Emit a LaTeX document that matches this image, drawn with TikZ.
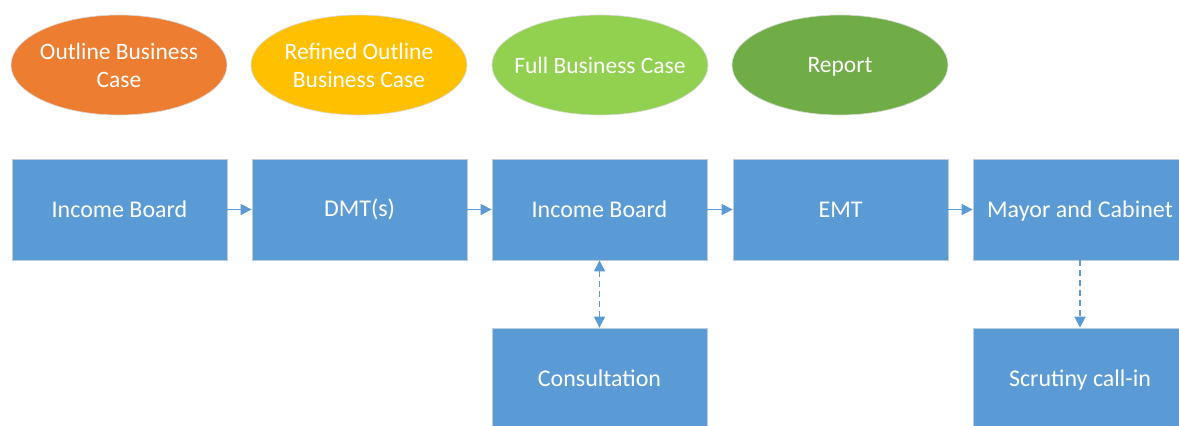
\documentclass[tikz,border=0pt]{standalone}
\usepackage{fontspec}
\setmainfont{Carlito}
\usetikzlibrary{arrows.meta,shapes.geometric}
\definecolor{cblue}{HTML}{5B9BD5}
\definecolor{corange}{HTML}{ED7D31}
\definecolor{cyellow}{HTML}{FFC000}
\definecolor{clgreen}{HTML}{92D050}
\definecolor{cgreen}{HTML}{70AD47}
\definecolor{cedge}{HTML}{BCCCDC}
\tikzset{
  boxfont/.style={text=white, font=\fontsize{24}{28}\selectfont},
  stepbox/.style={rectangle, fill=cblue, draw=cedge, line width=0.8pt, minimum width=215pt, minimum height=101pt, inner sep=0pt, boxfont, align=center},
  phase/.style={ellipse, draw=white!85!black, line width=0.6pt, minimum width=216pt, minimum height=100pt, inner sep=0pt},
  phasetext/.style={text=white, font=\fontsize{23.5}{28}\selectfont, align=center},
  flow/.style={draw=cblue, line width=1.6pt, -{Triangle[length=11pt,width=11pt]}},
  dflow/.style={flow, dash pattern=on 6pt off 4pt},
}
\begin{document}
\begin{tikzpicture}[x=1pt,y=-1pt]
\useasboundingbox (0,0) rectangle (1179,426);
\clip (0,0) rectangle (1179,426);
\node[phase, fill=corange] (e1) at (119,65) {};
\node[phasetext] (te1) at (e1.center) {Outline Business\\Case};
\node[phase, fill=cyellow] (e2) at (359,65) {};
\node[phasetext] (te2) at (e2.center) {Refined Outline\\Business Case};
\node[phase, fill=clgreen] (e3) at (600,65) {};
\node[phasetext] (te3) at (e3.center) {Full Business Case};
\node[phase, fill=cgreen] (e4) at (840,65) {};
\node[phasetext] (te4) at (840,67) {Report};
\node[stepbox] (b1) at (119.5,209.5) {Income Board};
\node[stepbox] (b2) at (359.5,209.5) {DMT(s)};
\node[stepbox] (b3) at (599.5,209.5) {Income Board};
\node[stepbox] (b4) at (840.5,209.5) {EMT};
\node[stepbox, minimum width=220pt] (b5) at (1083,209.5) {};
\node[boxfont, anchor=center] (t5) at (1080,211) {Mayor and Cabinet};
\node[stepbox, minimum height=110pt] (c1) at (599.5,383) {};
\node[boxfont] (tc1) at (599.5,378) {Consultation};
\node[stepbox, minimum width=220pt, minimum height=110pt] (c2) at (1083,383) {};
\node[boxfont] (tc2) at (1080,380) {Scrutiny call-in};
\draw[flow] (b1.east) -- (b2.west);
\draw[flow] (b2.east) -- (b3.west);
\draw[flow] (b3.east) -- (b4.west);
\draw[flow] (b4.east) -- (b5.west);
\draw[dflow, {Triangle[length=11pt,width=11pt]}-{Triangle[length=11pt,width=11pt]}] (b3.south) -- (c1.north);
\draw[dflow] (b5.south -| t5) -- (c2.north -| t5);
\end{tikzpicture}
\end{document}
